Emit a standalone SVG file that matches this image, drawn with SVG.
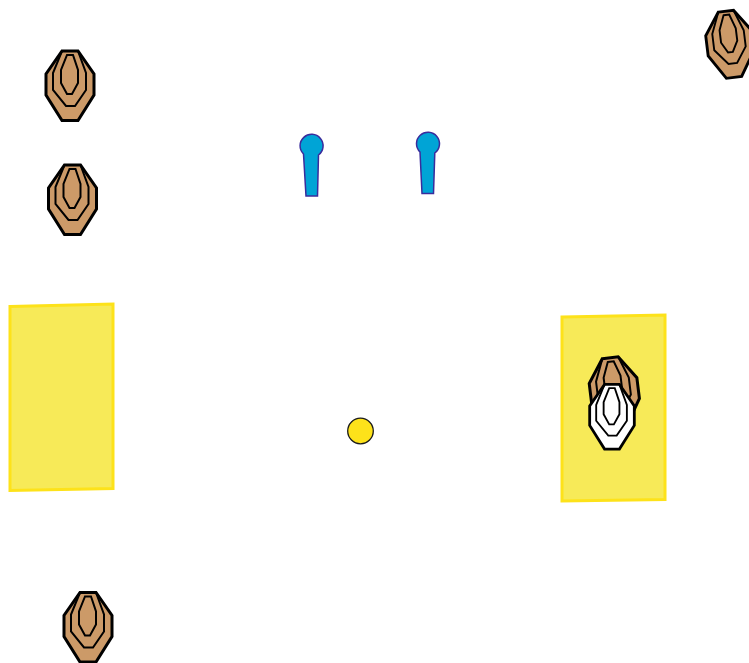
<svg xmlns="http://www.w3.org/2000/svg" width="749" height="663" viewBox="0 0 749 663">
<style>
.z{fill:#f7ea58;stroke:#fde21a;stroke-width:3}
.o{stroke:#000;stroke-width:3;stroke-linejoin:miter}
.l{fill:none;stroke:#000;stroke-width:2}
.b{fill:#cc9a68}
.w{fill:#fff}
.p{fill:#00a4d6;stroke:#3a2c9c;stroke-width:1.5}
</style>
<defs>
<g id="rings">
<path class="l" d="M-8-35L-17-13V4L-4 20H5L16 4V-13L8-35"/>
<path class="l" d="M-3-31H3L8-16V-3L2 8H-3L-9-3V-16Z"/>
</g>
<path id="outer" d="M-8-35H8L24-12V9L8 34.500H-8L-24 9V-12Z"/>
</defs>
<rect width="749" height="663" fill="#fff"/>
<g id="zone-left"><path class="z" d="M10 306.500L113 304V488.500L10 490.500Z"/></g>
<g id="zone-right"><path class="z" d="M562 317L665 315V499.500L562 501Z"/></g>
<g id="target-1" transform="translate(70 86)"><use href="#outer" class="b o"/><use href="#rings"/></g>
<g id="target-2" transform="translate(72.500 200)"><use href="#outer" class="b o"/><use href="#rings"/></g>
<g id="target-3" transform="translate(88 627.500)"><use href="#outer" class="b o"/><use href="#rings"/></g>
<g id="target-4" transform="translate(730 44.500) rotate(-7) scale(.96)"><use href="#outer" class="b o"/><use href="#rings"/></g>
<g id="target-5" transform="translate(614.500 392.500) rotate(-7) scale(1)"><use href="#outer" class="b o"/><use href="#rings"/></g>
<g id="target-6" transform="translate(612 417) scale(.93)"><use href="#outer" class="w o"/><use href="#rings"/></g>
<g id="figure-1"><path class="p" d="M303.500 154A11.500 11.500 0 1 1 318.500 155L317.500 196H306Z"/></g>
<g id="figure-2"><path class="p" d="M420 152A11.500 11.500 0 1 1 434.800 153L433.500 193.500H422Z"/></g>
<g id="ball"><circle cx="360.500" cy="431" r="12.800" fill="#fde21a" stroke="#1a1a1a" stroke-width="1.300"/></g>
<g id="connectors"/>
</svg>
